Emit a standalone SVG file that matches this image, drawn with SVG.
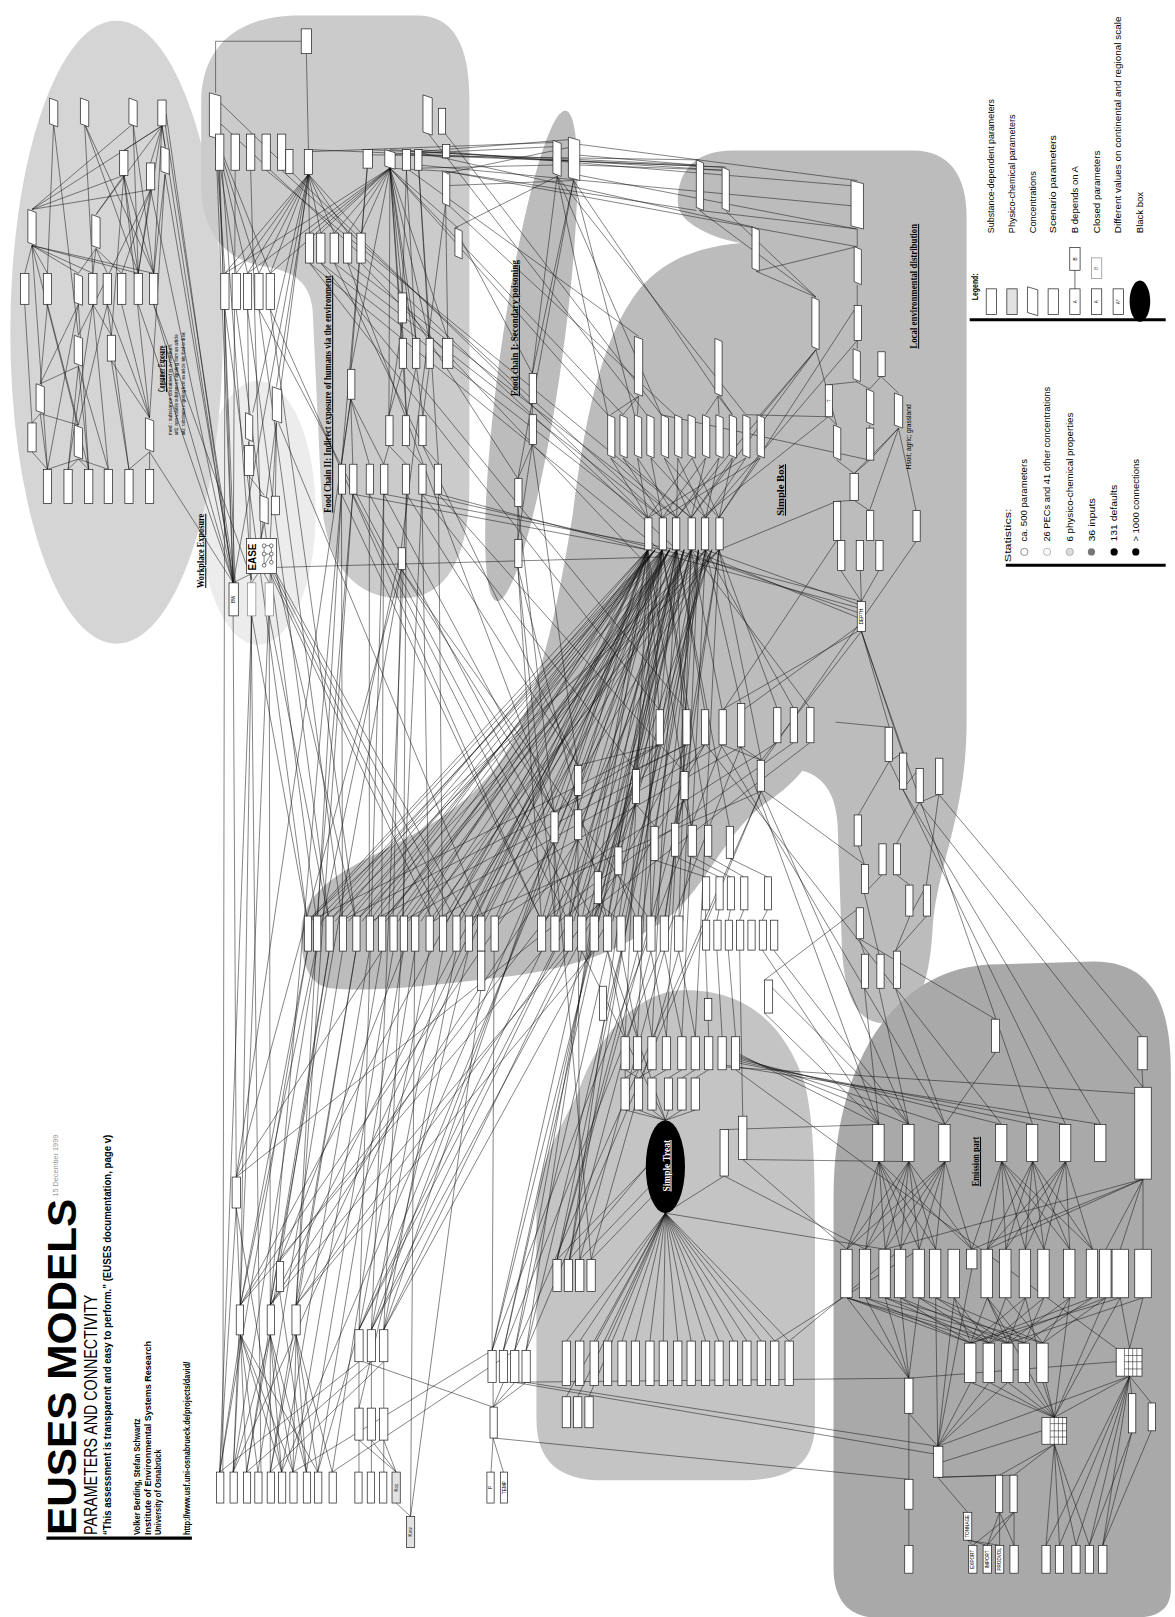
<svg xmlns="http://www.w3.org/2000/svg" width="1175" height="1617" viewBox="0 0 1175 1617">
<defs>
<style>
.b{fill:#fff;stroke:#222;stroke-width:.7}
.c{fill:#fff;stroke:#222;stroke-width:.7}
.p{fill:#e2e2e2;stroke:#222;stroke-width:.7}
.k{fill:#fff;stroke:#8a8a8a;stroke-width:.7}
.l{fill:none;stroke:#111;stroke-width:.5}
.s{font-family:"Liberation Sans",Arial,sans-serif;fill:#000}
.h{font-family:"Liberation Serif","Times New Roman",serif;font-weight:bold;text-decoration:underline;font-size:10px;fill:#000}
.nl{font-family:"Liberation Sans",Arial,sans-serif;font-size:4.5px;text-anchor:middle;fill:#000}
.lg{font-family:"Liberation Sans",Arial,sans-serif;font-size:9px;fill:#000}
</style>
</defs>
<rect width="1175" height="1617" fill="#fff"/>
<g transform="scale(1.0316)">

<!-- shaded model areas -->
<g id="areas">
<ellipse cx="250" cy="497" rx="56" ry="128" fill="#ececec"/>
<ellipse cx="113" cy="322" rx="103" ry="302" fill="#d5d5d5"/>
<path d="M195,100 C195,45 230,15 290,15 L405,15 C440,15 455,45 455,95 L455,470 C455,545 430,580 390,580 C345,580 318,550 312,490 L303,300 C300,270 280,262 255,258 C215,252 195,220 195,180 Z" fill="#cbcbcb"/>
<ellipse cx="515" cy="345" rx="30" ry="240" transform="rotate(8 515 345)" fill="#bcbcbc"/>
<path d="M292,905 C292,870 320,850 360,830 C420,800 480,770 510,690 C535,620 545,560 555,500 C565,420 580,330 620,280 C650,245 690,236 740,234 L800,234 L800,700 C790,740 770,760 740,780 C700,810 680,870 640,895 C600,920 560,940 480,948 C420,955 360,962 320,958 C300,955 292,935 292,905 Z" fill="#bcbcbc"/>
<path d="M657,195 C657,165 675,146 710,146 L885,146 C920,146 937,170 937,210 L937,700 C937,790 908,840 904,900 C901,960 885,992 858,992 C832,992 818,968 816,915 L812,800 C810,760 790,745 760,745 L760,240 C720,238 695,232 678,222 C664,214 657,206 657,195 Z" fill="#bcbcbc"/>
<path d="M560,1060 C580,1000 620,962 660,960 C720,958 760,990 780,1050 C790,1090 790,1150 790,1200 L790,1380 C790,1420 765,1435 720,1435 L585,1435 C540,1435 520,1415 520,1375 L520,1180 C520,1130 540,1100 560,1060 Z" fill="#c4c4c4"/>
<path d="M808,1160 C808,1040 860,940 960,935 L1060,932 C1115,932 1135,970 1135,1040 L1135,1540 C1135,1560 1122,1568 1100,1568 L850,1568 C822,1568 808,1550 808,1520 Z" fill="#a9a9a9"/>
</g>

<!-- dependencies between parameters -->
<g id="connectors">
<path class="l" d="M52,120 46,265M52,120 76,325M82,120 90,265M82,120 134,265M82,120 149,265M129,120 134,265M129,120 149,265M129,120 31,203M157,122 120,146M157,122 146,158M157,122 160,142M157,122 31,203M157,122 93,208M157,122 134,265M157,122 149,265M31,203 120,170M31,203 146,184M93,208 120,170M31,238 24,265M31,238 46,265M31,238 76,265M31,238 90,265M31,238 134,265M31,238 149,265M31,238 46,455M31,238 86,455M93,241 76,265M93,241 90,265M93,241 104,265M93,241 118,265M120,170 134,265M120,170 149,265M120,170 108,325M120,170 145,405M146,184 118,265M146,184 76,325M146,184 134,265M160,169 149,265M160,169 145,405M76,295 39,372M76,295 46,455M76,295 86,455M90,295 108,325M90,295 66,455M90,295 105,455M24,295 31,410M46,295 39,372M46,295 76,412M104,295 76,412M104,295 145,405M104,295 125,455M118,295 145,405M76,355 39,372M76,355 86,455M76,355 105,455M76,355 66,455M108,350 145,405M108,350 125,455M39,401 31,410M39,401 76,412M39,401 46,455M76,445 46,455M76,445 66,455M76,445 86,455M76,445 105,455M145,438 125,455M145,438 145,455M31,438 46,455"/>
<path class="l" d="M157,122 226,565M157,100 228,565M146,184 226,565M160,169 227,565M134,295 226,565M149,295 226,565M149,295 244,562M145,438 226,565M161,110 226,565"/>
<path class="l" d="M209,90 209,40 292,40M297,52 299,145M209,132 218,265M209,132 229,265M209,132 240,265M209,132 251,265M209,132 262,265M209,132 226,565M211,132 228,565M213,132 244,562M299,169 218,265M299,169 229,265M299,169 240,265M299,169 251,265M299,169 262,265M299,169 300,226M299,169 311,226M299,169 324,226M299,169 337,226M299,169 350,226M299,169 226,565M299,169 253,522M378,163 300,226M378,163 311,226M378,163 324,226M378,163 337,226M378,163 350,226M378,163 218,265M378,163 240,265M378,163 262,265M378,163 390,284M378,163 390,328M378,163 403,328M378,163 416,328M378,163 434,328M378,163 340,358M378,163 377,403M378,163 394,403M378,163 410,403M378,163 444,221M378,163 432,166M356,163 340,358M356,163 331,450M394,165 390,284M394,165 403,328M406,165 416,328M406,165 425,450M432,197 434,328M432,197 389,531M340,387 331,450M340,387 342,450M340,387 358,450M340,387 372,450M390,313 377,403M390,313 394,403M390,357 377,403M403,357 394,403M416,357 410,403M377,432 372,450M377,432 394,450M394,432 409,450M410,432 425,450"/>
<path class="l" d="M331,479 332,893M358,479 358,893M394,479 391,893M409,479 416,893M425,479 429,893M389,552 381,893M342,479 307,893M372,479 370,893M300,255 640,533M311,255 628,502M324,255 642,502M337,255 656,502M350,255 620,540M378,163 589,402M378,163 604,402M394,163 619,326M356,145 675,160M378,145 700,165M394,145 730,220M406,145 825,180M432,166 675,204M432,166 830,239M300,145 700,162M425,479 628,533M409,479 642,533M372,479 656,533M342,479 628,533M441,221 540,171M432,180 556,175M406,163 536,160M214,100 628,502M214,120 656,533M273,165 642,502M258,165 670,502M213,165 226,565M228,165 226,565M243,165 253,522M218,300 298,893M229,300 307,893M240,300 319,893M251,300 332,893M262,300 345,893M218,300 216,1427M240,300 253,1427"/>
<path class="l" d="M300,255 639,688M311,255 665,688M324,255 560,742M337,255 537,787M331,479 525,893M342,479 551,893M358,479 576,893M372,479 537,787M394,479 560,742M409,479 616,746M425,479 663,748M244,597 298,893M261,597 319,893M268,556 345,893M262,300 525,893M251,300 564,893M389,552 631,893M389,552 537,787M432,130 641,402M414,128 627,402M436,200 654,402M516,431 560,742M502,491 537,787M502,550 589,893M233,1265 389,531M262,1265 331,479M287,1265 342,479M348,1289 372,479M360,1289 394,479M372,1289 409,479M213,1427 244,597M226,1427 262,556M229,1141 340,387"/>
<path class="l" d="M253,522 256,508M262,522 268,410M241,461 256,480M268,410 267,481M241,428 241,432M244,556 226,565M250,556 244,565M256,556 261,565M262,556 420,893M264,556 429,893M266,556 442,893M268,556 454,893M268,550 640,540M268,375 300,169M245,400 299,169M270,410 470,893M226,597 229,1141M244,597 233,1265M261,597 262,1265M389,552 262,1265M331,479 287,1265M229,1141 389,552"/>
<path class="l" d="M540,171 516,362M556,175 516,362M556,175 502,464M516,391 516,402M516,431 502,464M516,431 502,523M502,491 502,523M540,138 300,147M540,142 378,150M556,135 406,147M556,142 432,168M556,150 675,160M562,160 700,165M562,170 830,222M540,171 589,402M556,175 615,402M540,171 641,402M516,362 441,221M502,464 386,284M502,550 525,893M502,550 538,893"/>
<path class="l" d="M831,222 831,239M831,276 831,296M831,330 831,338M830,370 843,377M854,365 843,377M854,365 871,381M831,370 803,373M843,412 843,415M871,415 843,446M871,415 828,459M871,415 888,495M871,415 843,495M811,446 828,459M828,485 811,486M828,485 843,495M843,446 828,459M791,339 811,412M803,404 811,412M815,553 835,583M834,553 835,583M852,553 835,583M816,524 811,524M678,204 791,288M704,205 791,288M733,263 791,288M733,263 831,239M678,204 831,222M831,175 562,140M831,200 406,160M704,162 394,150M678,155 356,150M791,339 656,502M791,339 670,502M831,330 684,502M831,296 697,502M811,486 697,533M811,524 700,690M803,404 680,502M843,446 641,402M888,525 741,737M642,533 835,583M628,533 835,590M656,533 835,595M670,533 835,600M684,533 835,587M718,690 835,605M700,688 835,610M738,737 835,612M835,612 862,705M835,612 875,730M862,738 875,730M875,765 891,745M891,778 910,770M862,705 810,700M832,820 838,838M855,848 838,866M869,848 882,858M882,888 898,858M833,910 838,925M838,866 852,925M882,888 868,922M898,888 868,922M838,958 852,1090M852,958 881,1090M868,958 916,1090M833,880 741,950M838,838 741,767M832,790 862,738M910,770 898,858M891,778 869,818"/>
<path class="l" d="M619,384 592,402M619,384 604,402M619,384 618,402M696,384 684,402M696,384 697,402M696,384 710,402M592,444 628,502M604,444 642,502M618,444 628,502M618,444 656,502M631,444 642,502M644,444 670,502M657,444 656,502M657,444 684,502M671,444 697,502M684,444 670,502M697,444 684,502M710,444 697,502M723,444 628,502M737,444 642,502M592,444 656,502M604,444 670,502M631,444 684,502M644,444 697,502M671,444 628,502M684,444 642,502M697,444 656,502M710,444 670,502M723,444 684,502M737,444 697,502M710,402 556,175M723,402 540,171M737,402 791,339M723,402 803,404"/>
<path class="l" d="M628,533 298,893M642,533 307,893M628,533 319,893M656,533 332,893M642,533 345,893M628,533 358,893M670,533 370,893M642,533 381,893M656,533 391,893M628,533 402,893M684,533 416,893M642,533 429,893M656,533 442,893M628,533 454,893M670,533 466,893M642,533 479,893M697,533 298,893M684,533 319,893M697,533 345,893M684,533 370,893M697,533 402,893M670,533 442,893M628,533 525,893M642,533 538,893M656,533 551,893M628,533 564,893M670,533 576,893M642,533 589,893M684,533 602,893M656,533 618,893M628,533 631,893M697,533 644,893M670,533 658,893M642,533 551,893M656,533 589,893M628,533 639,688M642,533 665,688M656,533 683,688M670,533 700,688M684,533 718,682M697,533 738,737M628,533 560,742M642,533 616,746M656,533 663,748M628,533 537,787M642,533 560,785M656,533 599,821M670,533 580,845M684,533 635,801M697,533 654,798M628,533 670,800M642,533 686,800M656,533 707,801M697,533 753,686M684,533 769,686M670,533 785,686M628,533 606,1005M642,533 618,1005M656,533 632,1005M670,533 646,1005M684,533 661,1005M697,533 674,1005M628,533 233,1265M642,533 262,1265M628,533 287,1265M656,533 348,1289M642,533 360,1289M628,533 372,1289M670,533 477,1309M656,533 488,1309M642,533 499,1309M628,533 510,1309M684,533 540,1221M670,533 552,1221"/>
<path class="l" d="M635,533 300,893M635,533 312,893M635,533 325,893M635,533 338,893M635,533 351,893M635,533 363,893M635,533 374,893M635,533 386,893M649,533 396,893M649,533 408,893M649,533 420,893M649,533 433,893M649,533 446,893M649,533 458,893M649,533 470,893M649,533 482,893M663,533 529,893M663,533 542,893M663,533 556,893M663,533 568,893M663,533 580,893M663,533 594,893M677,533 606,893M677,533 622,893M677,533 635,893M677,533 648,893M677,533 662,893M690,533 540,790M690,533 560,800M690,533 600,830M690,533 580,860M639,722 300,893M665,722 330,893M683,722 360,893M700,722 390,893M718,724 420,893M738,767 450,893M753,720 480,893M769,720 525,893M785,720 560,893"/>
<path class="l" d="M639,722 560,742M665,722 616,746M683,722 663,748M700,722 738,737M718,724 738,737M639,722 537,787M560,771 560,785M616,779 599,821M663,775 654,798M663,775 670,800M616,779 635,801M560,814 580,845M635,834 684,850M654,830 697,850M670,830 708,850M686,830 721,850M707,832 744,850M684,882 684,892M697,882 695,892M708,882 706,892M721,882 717,892M744,882 739,892M580,876 589,893M580,876 602,893M537,817 538,893M560,814 551,893M599,848 618,893M635,834 631,893M654,830 644,893M670,830 658,893M537,817 233,1265M560,814 262,1265M580,876 287,1265M599,848 229,1141M616,779 271,1223M639,722 348,1289M665,722 360,1289M683,722 372,1289M700,722 477,1309M718,724 488,1309M738,767 499,1309M738,767 510,1309M663,775 540,1221M616,779 552,1221M560,771 562,1221M537,817 573,1221"/>
<path class="l" d="M298,922 213,1427M307,922 226,1427M319,922 239,1427M332,922 250,1427M345,922 262,1427M358,922 273,1427M370,922 284,1427M381,922 297,1427M391,922 308,1427M402,922 322,1427M416,922 348,1289M429,922 360,1289M442,922 372,1289M454,922 348,1365M466,960 398,1470M479,922 477,1309M298,922 233,1265M319,922 262,1265M345,922 287,1265M370,922 229,1141M391,922 271,1223M525,922 348,1289M538,922 360,1289M551,922 372,1289M564,922 477,1309M576,922 488,1309M589,922 499,1309M602,922 510,1309M618,922 540,1221M631,922 552,1221M644,922 562,1221M658,922 573,1221M525,922 233,1265M551,922 262,1265M576,922 287,1265M589,922 606,1005M602,922 618,1005M618,922 632,1005M631,922 646,1005M644,922 661,1005M658,922 674,1005M684,921 687,1005M695,921 700,1005M706,921 713,1005M717,921 720,1082M739,921 852,1090M750,921 881,1090"/>
<path class="l" d="M229,1171 233,1265M229,1171 213,1427M229,1171 273,1427M271,1252 262,1265M271,1252 297,1427M233,1294 213,1427M233,1294 226,1427M233,1294 239,1427M233,1294 250,1427M233,1294 273,1427M233,1294 284,1427M233,1294 308,1427M262,1294 239,1427M262,1294 262,1427M262,1294 273,1427M262,1294 284,1427M262,1294 297,1427M262,1294 226,1427M287,1294 284,1427M287,1294 297,1427M287,1294 308,1427M287,1294 322,1427M287,1294 262,1427M348,1320 348,1365M360,1320 360,1365M372,1320 372,1365M348,1396 348,1427M348,1396 384,1427M360,1396 360,1427M360,1396 384,1427M372,1396 372,1427M372,1396 384,1427M384,1457 398,1470M398,1470 402,922M478,1340 478,1364M488,1340 478,1364M499,1340 478,1364M510,1340 478,1364M478,1394 476,1427M478,1394 488,1427M479,1394 881,1434M352,1320 478,1364M213,1427 348,1320M239,1427 360,1320M262,1427 372,1320M284,1427 477,1309M308,1427 348,1289M322,1427 499,1309M226,1427 628,533M273,1427 656,533"/>
<path class="l" d="M645,1086 606,1076M645,1086 619,1076M645,1086 632,1076M645,1086 648,1076M645,1086 661,1076M645,1086 674,1076M606,1045 618,1037M619,1045 632,1037M632,1045 646,1037M648,1045 661,1037M661,1045 674,1037M674,1045 687,1037M606,1045 606,1037M619,1045 606,1037M645,1086 589,922M645,1086 564,922M627,1131 540,1221M627,1131 552,1221M630,1150 562,1221M632,1160 573,1221M645,1176 549,1300M645,1176 562,1300M645,1176 576,1300M645,1176 589,1300M645,1176 603,1300M645,1176 616,1300M645,1176 630,1300M645,1176 643,1300M645,1176 657,1300M645,1176 670,1300M645,1176 684,1300M645,1176 697,1300M645,1176 711,1300M645,1176 724,1300M645,1176 738,1300M645,1176 751,1300M645,1176 765,1300M645,1176 549,1354M645,1176 560,1354M645,1176 571,1354M713,1020 852,1090M713,1022 881,1090M713,1024 916,1090M713,1026 971,1090M713,1028 1001,1090M713,1030 1033,1090M700,1032 1067,1090M700,1034 1100,1060M702,1140 645,1176M720,1124 881,1126M702,1095 852,1090"/>
<path class="l" d="M852,1126 821,1211M852,1126 839,1211M852,1126 858,1211M852,1126 873,1211M852,1126 891,1211M852,1126 907,1211M852,1126 942,1211M881,1126 821,1211M881,1126 839,1211M881,1126 858,1211M881,1126 873,1211M881,1126 891,1211M881,1126 907,1211M881,1126 942,1211M916,1126 821,1211M916,1126 839,1211M916,1126 858,1211M916,1126 873,1211M916,1126 891,1211M916,1126 907,1211M916,1126 942,1211M971,1126 957,1211M971,1126 975,1211M971,1126 994,1211M971,1126 1012,1211M971,1126 1037,1211M971,1126 1059,1211M971,1126 942,1211M1001,1126 957,1211M1001,1126 975,1211M1001,1126 994,1211M1001,1126 1012,1211M1001,1126 1037,1211M1001,1126 1059,1211M1033,1126 957,1211M1033,1126 975,1211M1033,1126 994,1211M1033,1126 1012,1211M1033,1126 1037,1211M1033,1126 1059,1211M1108,1143 1086,1211M1108,1143 1108,1211M1108,1143 942,1211M1108,1143 1072,1211M1108,1143 858,1211M1108,1143 957,1211M965,1020 916,1090M1107,1037 1108,1054M852,1090 718,724M881,1090 738,767M916,1090 700,724M971,1090 683,720M1001,1090 835,612M1033,1090 862,738M1067,1090 875,765M1108,1054 891,778M1107,1005 910,770M965,988 833,910M852,1090 741,982M881,1090 741,950"/>
<path class="l" d="M821,1258 881,1336M839,1258 881,1336M858,1258 881,1336M873,1258 881,1336M891,1258 881,1336M957,1258 1022,1374M994,1258 1022,1374M1037,1258 1022,1374M1072,1258 1022,1374M1086,1258 1022,1374M907,1258 909,1402M925,1258 909,1402M942,1230 909,1402M941,1340 1022,1374M959,1340 1022,1374M977,1340 1022,1374M993,1340 1022,1374M1011,1340 1022,1374M941,1340 909,1402M959,1340 909,1402M977,1340 909,1402M1086,1258 1095,1307M1108,1258 1095,1307M1095,1334 1097,1351M1095,1334 1116,1360M1095,1334 1014,1498M1095,1334 1027,1498M1095,1334 1043,1498M1095,1334 1056,1498M1095,1334 1069,1498M1095,1334 909,1402M1095,1334 1022,1374M1082,1320 881,1336M1022,1400 1014,1498M1022,1400 1027,1498M1022,1400 1043,1498M1022,1400 1056,1498M1022,1400 969,1430M1022,1400 983,1430M1010,1387 914,1417M1097,1389 1069,1498M1097,1389 1056,1498M1116,1387 1069,1498M881,1370 881,1434M881,1370 909,1402M881,1463 881,1498M909,1432 938,1466M909,1432 969,1430M909,1432 983,1430M938,1493 943,1498M938,1493 957,1498M938,1493 969,1498M969,1466 969,1498M969,1466 983,1498M969,1466 957,1498M983,1466 983,1498M983,1466 957,1498M983,1466 943,1498M909,1402 510,1340M909,1410 499,1340M881,1336 488,1340M821,1211 720,1124M839,1211 702,1140M858,1211 645,1176M873,1211 765,1300M891,1211 751,1300M1082,1307 713,1037"/>
<path class="l" d="M821,1258 941,1302M821,1258 959,1302M821,1258 977,1302M839,1258 941,1302M839,1258 993,1302M858,1258 959,1302M858,1258 1011,1302M873,1258 941,1302M873,1258 977,1302M891,1258 959,1302M891,1258 993,1302M907,1258 977,1302M907,1258 1011,1302M925,1258 941,1302M925,1258 959,1302M957,1258 941,1302M957,1258 977,1302M957,1258 993,1302M975,1258 959,1302M975,1258 1011,1302M994,1258 941,1302M994,1258 977,1302M1012,1258 959,1302M1012,1258 993,1302M1037,1258 977,1302M1037,1258 1011,1302M1059,1258 993,1302M1059,1258 941,1302M1072,1258 1011,1302M1072,1258 959,1302M1086,1258 941,1302M1108,1258 977,1302"/>
</g>

<!-- consumer exposure parameters -->
<g id="consumer">
<g id="ce01"><path class="c" d="M48,95l8,3v25l-8,-3z"/></g>
<g id="ce02"><path class="c" d="M78,95l8,3v25l-8,-3z"/></g>
<g id="ce03"><path class="c" d="M125,95l8,3v25l-8,-3z"/></g>
<g id="ce04"><rect class="b" x="153" y="97" width="8" height="25"/></g>
<g id="ce05"><rect class="b" x="116" y="146" width="8" height="24"/></g>
<g id="ce06"><rect class="b" x="142" y="158" width="8" height="26"/></g>
<g id="ce07"><path class="c" d="M156,142l8,3v24l-8,-3z"/></g>
<g id="ce08"><path class="c" d="M27,203l8,3v32l-8,-3z"/></g>
<g id="ce09"><path class="c" d="M89,208l8,3v30l-8,-3z"/></g>
<g id="ce10"><rect class="b" x="20" y="265" width="8" height="30"/></g>
<g id="ce11"><rect class="b" x="42" y="265" width="8" height="30"/></g>
<g id="ce12"><path class="c" d="M72,265l8,3v28l-8,-3z"/></g>
<g id="ce13"><rect class="b" x="86" y="265" width="8" height="30"/></g>
<g id="ce14"><rect class="b" x="100" y="265" width="8" height="30"/></g>
<g id="ce15"><rect class="b" x="114" y="265" width="8" height="30"/></g>
<g id="ce16"><rect class="b" x="130" y="265" width="8" height="30"/></g>
<g id="ce17"><rect class="b" x="145" y="265" width="8" height="30"/></g>
<g id="ce18"><path class="c" d="M72,325l8,3v27l-8,-3z"/></g>
<g id="ce19"><rect class="b" x="104" y="325" width="8" height="25"/></g>
<g id="ce20"><path class="c" d="M35,372l8,3v26l-8,-3z"/></g>
<g id="ce21"><rect class="b" x="27" y="410" width="8" height="28"/></g>
<g id="ce22"><path class="c" d="M72,412l8,3v30l-8,-3z"/></g>
<g id="ce23"><path class="c" d="M141,405l8,3v30l-8,-3z"/></g>
<g id="ce24"><rect class="b" x="42" y="455" width="8" height="33"/></g>
<g id="ce25"><rect class="b" x="62" y="455" width="8" height="33"/></g>
<g id="ce26"><rect class="b" x="82" y="455" width="8" height="33"/></g>
<g id="ce27"><rect class="b" x="101" y="455" width="8" height="33"/></g>
<g id="ce28"><rect class="b" x="121" y="455" width="8" height="33"/></g>
<g id="ce29"><rect class="b" x="141" y="455" width="8" height="33"/></g>
</g>

<!-- food chain II -->
<g id="foodchain2">
<g id="f2-01"><path class="c" d="M203,90l11,3v42l-11,-3z"/></g>
<g id="f2-02"><rect class="b" x="292" y="28" width="10" height="24"/></g>
<g id="f2-03"><rect class="b" x="209" y="130" width="8" height="35"/></g>
<g id="f2-04"><rect class="b" x="224" y="130" width="8" height="35"/></g>
<g id="f2-05"><rect class="b" x="239" y="130" width="8" height="35"/></g>
<g id="f2-06"><rect class="b" x="254" y="130" width="8" height="35"/></g>
<g id="f2-07"><rect class="b" x="269" y="130" width="8" height="35"/></g>
<g id="f2-08"><rect class="b" x="295" y="145" width="8" height="24"/></g>
<g id="f2-09"><rect class="b" x="214" y="265" width="8" height="35"/></g>
<g id="f2-10"><rect class="b" x="225" y="265" width="8" height="35"/></g>
<g id="f2-11"><rect class="b" x="236" y="265" width="8" height="35"/></g>
<g id="f2-12"><rect class="b" x="247" y="265" width="8" height="35"/></g>
<g id="f2-13"><rect class="b" x="258" y="265" width="8" height="35"/></g>
<g id="f2-14"><rect class="b" x="296" y="226" width="8" height="29"/></g>
<g id="f2-15"><rect class="b" x="307" y="226" width="8" height="29"/></g>
<g id="f2-16"><rect class="b" x="320" y="226" width="8" height="29"/></g>
<g id="f2-17"><rect class="b" x="333" y="226" width="8" height="29"/></g>
<g id="f2-18"><rect class="b" x="346" y="226" width="8" height="29"/></g>
<g id="f2-19"><rect class="b" x="277" y="145" width="7" height="23"/></g>
<g id="f2-20"><rect class="b" x="352" y="145" width="9" height="18"/></g>
<g id="f2-21"><path class="c" d="M373,145l10,3v16l-10,-3z"/></g>
<g id="f2-22"><rect class="b" x="390" y="145" width="8" height="20"/></g>
<g id="f2-23"><rect class="b" x="402" y="145" width="7" height="20"/></g>
<g id="f2-24"><rect class="b" x="429" y="140" width="7" height="13"/></g>
<g id="f2-25"><path class="c" d="M429,166l7,3v31l-7,-3z"/></g>
<g id="f2-26"><path class="c" d="M441,221l7,3v27l-7,-3z"/></g>
<g id="f2-27"><path class="c" d="M410,92l9,3v36l-9,-3z"/></g>
<g id="f2-28"><rect class="b" x="425" y="105" width="7" height="25"/></g>
<g id="f2-29"><rect class="b" x="386" y="284" width="8" height="29"/></g>
<g id="f2-30"><rect class="b" x="387" y="328" width="7" height="29"/></g>
<g id="f2-31"><rect class="b" x="400" y="328" width="7" height="29"/></g>
<g id="f2-32"><rect class="b" x="413" y="328" width="7" height="29"/></g>
<g id="f2-33"><rect class="b" x="429" y="328" width="10" height="29"/></g>
<g id="f2-34"><rect class="b" x="337" y="358" width="7" height="29"/></g>
<g id="f2-35"><rect class="b" x="374" y="403" width="7" height="29"/></g>
<g id="f2-36"><rect class="b" x="390" y="403" width="7" height="29"/></g>
<g id="f2-37"><rect class="b" x="406" y="403" width="7" height="29"/></g>
<g id="f2-38"><rect class="b" x="328" y="450" width="7" height="29"/></g>
<g id="f2-39"><rect class="b" x="339" y="450" width="7" height="29"/></g>
<g id="f2-40"><rect class="b" x="355" y="450" width="7" height="29"/></g>
<g id="f2-41"><rect class="b" x="369" y="450" width="7" height="29"/></g>
<g id="f2-42"><rect class="b" x="390" y="450" width="7" height="29"/></g>
<g id="f2-43"><rect class="b" x="406" y="450" width="7" height="29"/></g>
<g id="f2-44"><rect class="b" x="421" y="450" width="7" height="29"/></g>
<g id="f2-45"><rect class="b" x="386" y="531" width="7" height="21"/></g>
</g>

<!-- workplace exposure -->
<g id="workplace">
<g id="ease">
<rect class="b" x="239" y="522" width="29" height="34"/>
<text class="s" transform="translate(248,553) rotate(-90)" font-size="10" font-weight="bold" textLength="26" lengthAdjust="spacingAndGlyphs">EASE</text>
<path class="l" d="M256,529 263,529M256,537 263,537M256,529 256,548M263,529 263,545M263,537 256,548"/>
<circle cx="256" cy="529" r="1.8" fill="#fff" stroke="#222" stroke-width=".6"/>
<circle cx="263" cy="529" r="1.8" fill="#fff" stroke="#222" stroke-width=".6"/>
<circle cx="256" cy="537" r="1.8" fill="#fff" stroke="#222" stroke-width=".6"/>
<circle cx="263" cy="537" r="1.8" fill="#fff" stroke="#222" stroke-width=".6"/>
<circle cx="263" cy="545" r="1.8" fill="#fff" stroke="#222" stroke-width=".6"/>
<circle cx="256" cy="548" r="1.8" fill="#fff" stroke="#222" stroke-width=".6"/>
</g>
<g id="wp-bw"><rect class="b" x="222" y="565" width="9" height="32"/><text class="nl" transform="translate(228.1,581) rotate(-90)">BW</text></g>
<g id="wp-02"><rect class="k" x="240" y="565" width="8" height="32"/></g>
<g id="wp-03"><rect class="k" x="257" y="565" width="8" height="32"/></g>
<g id="wp-04"><rect class="b" x="237" y="432" width="9" height="29"/></g>
<g id="wp-05"><path class="c" d="M238,400l7,3v25l-7,-3z"/></g>
<g id="wp-06"><path class="c" d="M252,480l8,3v25l-8,-3z"/></g>
<g id="wp-07"><rect class="b" x="263" y="481" width="8" height="18"/></g>
<g id="wp-08"><path class="c" d="M264,375l9,3v32l-9,-3z"/></g>
</g>

<!-- food chain I -->
<g id="foodchain1">
<g id="f1-01"><path class="c" d="M536,136l8,3v32l-8,-3z"/></g>
<g id="f1-02"><path class="c" d="M551,133l11,3v39l-11,-3z"/></g>
<g id="f1-03"><rect class="b" x="513" y="362" width="7" height="29"/></g>
<g id="f1-04"><rect class="b" x="513" y="402" width="7" height="29"/></g>
<g id="f1-05"><rect class="b" x="499" y="464" width="7" height="27"/></g>
<g id="f1-06"><rect class="b" x="499" y="523" width="7" height="27"/></g>
</g>

<!-- local environmental distribution -->
<g id="localdist">
<g id="le-01"><path class="c" d="M675,155l7,3v46l-7,-3z"/></g>
<g id="le-02"><path class="c" d="M700,162l7,3v40l-7,-3z"/></g>
<g id="le-03"><path class="c" d="M729,220l7,3v40l-7,-3z"/></g>
<g id="le-04"><path class="c" d="M825,175l12,3v44l-12,-3z"/></g>
<g id="le-05"><path class="c" d="M828,239l7,3v34l-7,-3z"/></g>
<g id="le-06"><rect class="b" x="828" y="296" width="7" height="34"/></g>
<g id="le-07"><path class="c" d="M827,338l7,3v29l-7,-3z"/></g>
<g id="le-08"><path class="c" d="M787,288l7,3v48l-7,-3z"/></g>
<g id="le-09"><rect class="b" x="800" y="373" width="7" height="31"/><text class="nl" transform="translate(805.1,388.5) rotate(-90)">T</text></g>
<g id="le-10"><rect class="b" x="851" y="341" width="7" height="24"/></g>
<g id="le-11"><path class="c" d="M840,377l7,3v32l-7,-3z"/></g>
<g id="le-12"><path class="c" d="M867,381l8,3v31l-8,-3z"/></g>
<g id="le-13"><path class="c" d="M808,412l7,3v31l-7,-3z"/></g>
<g id="le-14"><rect class="b" x="840" y="415" width="7" height="31"/></g>
<g id="le-15"><rect class="b" x="824" y="459" width="8" height="26"/></g>
<g id="le-16"><rect class="b" x="808" y="486" width="7" height="38"/></g>
<g id="le-17"><rect class="b" x="840" y="495" width="7" height="29"/></g>
<g id="le-18"><rect class="b" x="885" y="495" width="7" height="30"/></g>
<g id="le-19"><rect class="b" x="812" y="524" width="7" height="29"/></g>
<g id="le-20"><rect class="b" x="830" y="524" width="7" height="29"/></g>
<g id="le-21"><rect class="b" x="849" y="524" width="7" height="29"/></g>
<g id="le-22"><rect class="b" x="831" y="583" width="8" height="29"/><text class="nl" transform="translate(836.6,597.5) rotate(-90)">DEPTH</text></g>
<g id="le-23"><rect class="b" x="858" y="705" width="7" height="33"/></g>
<g id="le-24"><rect class="b" x="872" y="730" width="7" height="35"/></g>
<g id="le-25"><rect class="b" x="888" y="745" width="7" height="33"/></g>
<g id="le-26"><rect class="b" x="907" y="735" width="7" height="35"/></g>
<g id="le-27"><rect class="b" x="828" y="790" width="7" height="30"/></g>
<g id="le-28"><rect class="b" x="835" y="838" width="7" height="28"/></g>
<g id="le-29"><rect class="b" x="852" y="818" width="7" height="30"/></g>
<g id="le-30"><rect class="b" x="866" y="818" width="7" height="30"/></g>
<g id="le-31"><rect class="b" x="878" y="858" width="7" height="30"/></g>
<g id="le-32"><rect class="b" x="895" y="858" width="7" height="30"/></g>
<g id="le-33"><rect class="b" x="830" y="880" width="7" height="30"/></g>
<g id="le-34"><rect class="b" x="835" y="925" width="7" height="33"/></g>
<g id="le-35"><rect class="b" x="850" y="925" width="7" height="33"/></g>
<g id="le-36"><rect class="b" x="866" y="922" width="7" height="36"/></g>
</g>

<!-- simple box -->
<g id="simplebox">
<g id="sb-01"><path class="c" d="M615,326l8,3v55l-8,-3z"/></g>
<g id="sb-02"><path class="c" d="M693,328l7,3v53l-7,-3z"/></g>
<g id="sb-03"><path class="c" d="M589,402l7,3v39l-7,-3z"/></g>
<g id="sb-04"><path class="c" d="M601,402l7,3v39l-7,-3z"/></g>
<g id="sb-05"><path class="c" d="M615,402l7,3v39l-7,-3z"/></g>
<g id="sb-06"><path class="c" d="M627,402l7,3v39l-7,-3z"/></g>
<g id="sb-07"><path class="c" d="M641,402l7,3v39l-7,-3z"/></g>
<g id="sb-08"><path class="c" d="M654,402l7,3v39l-7,-3z"/></g>
<g id="sb-09"><path class="c" d="M667,402l7,3v39l-7,-3z"/></g>
<g id="sb-10"><path class="c" d="M681,402l7,3v39l-7,-3z"/></g>
<g id="sb-11"><path class="c" d="M694,402l7,3v39l-7,-3z"/></g>
<g id="sb-12"><path class="c" d="M707,402l7,3v39l-7,-3z"/></g>
<g id="sb-13"><path class="c" d="M720,402l7,3v39l-7,-3z"/></g>
<g id="sb-14"><path class="c" d="M734,402l7,3v39l-7,-3z"/></g>
<g id="sb-15"><rect class="b" x="625" y="502" width="7" height="31"/></g>
<g id="sb-16"><rect class="b" x="639" y="502" width="7" height="31"/></g>
<g id="sb-17"><rect class="b" x="652" y="502" width="7" height="31"/></g>
<g id="sb-18"><rect class="b" x="667" y="502" width="7" height="31"/></g>
<g id="sb-19"><rect class="b" x="680" y="502" width="7" height="31"/></g>
<g id="sb-20"><rect class="b" x="694" y="502" width="7" height="31"/></g>
<g id="sb-21"><rect class="b" x="636" y="688" width="7" height="34"/></g>
<g id="sb-22"><rect class="b" x="662" y="688" width="7" height="34"/></g>
<g id="sb-23"><rect class="b" x="680" y="688" width="7" height="34"/></g>
<g id="sb-24"><rect class="b" x="697" y="688" width="7" height="34"/></g>
<g id="sb-25"><rect class="b" x="715" y="682" width="7" height="42"/></g>
<g id="sb-26"><rect class="b" x="750" y="686" width="7" height="34"/></g>
<g id="sb-27"><rect class="b" x="766" y="686" width="7" height="34"/></g>
<g id="sb-28"><rect class="b" x="782" y="686" width="7" height="34"/></g>
<g id="sb-29"><rect class="b" x="734" y="737" width="7" height="30"/></g>
<g id="sb-30"><rect class="b" x="557" y="742" width="7" height="29"/></g>
<g id="sb-31"><rect class="b" x="613" y="746" width="7" height="33"/></g>
<g id="sb-32"><rect class="b" x="660" y="748" width="7" height="27"/></g>
<g id="sb-33"><rect class="b" x="534" y="787" width="7" height="30"/></g>
<g id="sb-34"><rect class="b" x="557" y="785" width="7" height="29"/></g>
<g id="sb-35"><rect class="b" x="631" y="801" width="7" height="33"/></g>
<g id="sb-36"><rect class="b" x="651" y="798" width="7" height="32"/></g>
<g id="sb-37"><rect class="b" x="667" y="800" width="8" height="30"/></g>
<g id="sb-38"><rect class="b" x="683" y="800" width="7" height="30"/></g>
<g id="sb-39"><rect class="b" x="704" y="801" width="7" height="31"/></g>
<g id="sb-40"><rect class="b" x="596" y="821" width="7" height="27"/></g>
<g id="sb-41"><rect class="b" x="576" y="845" width="7" height="31"/></g>
<g id="sb-42"><rect class="b" x="681" y="850" width="7" height="32"/></g>
<g id="sb-43"><rect class="b" x="694" y="850" width="7" height="32"/></g>
<g id="sb-44"><rect class="b" x="705" y="850" width="7" height="32"/></g>
<g id="sb-45"><rect class="b" x="718" y="850" width="7" height="32"/></g>
<g id="sb-46"><rect class="b" x="741" y="850" width="7" height="32"/></g>
<g id="sb-47"><rect class="b" x="681" y="892" width="7" height="29"/></g>
<g id="sb-48"><rect class="b" x="692" y="892" width="7" height="29"/></g>
<g id="sb-49"><rect class="b" x="703" y="892" width="7" height="29"/></g>
<g id="sb-50"><rect class="b" x="714" y="892" width="7" height="29"/></g>
<g id="sb-51"><rect class="b" x="725" y="892" width="7" height="29"/></g>
<g id="sb-52"><rect class="b" x="736" y="892" width="7" height="29"/></g>
<g id="sb-53"><rect class="b" x="747" y="892" width="7" height="29"/></g>
<g id="sb-54"><rect class="b" x="581" y="956" width="7" height="33"/></g>
<g id="sb-55"><rect class="b" x="683" y="968" width="7" height="21"/></g>
<g id="sb-56"><rect class="b" x="741" y="950" width="8" height="32"/></g>
</g>

<!-- inputs along the simple box arm -->
<g id="armrow">
<g id="ar-01"><rect class="b" x="295" y="888" width="7" height="34"/></g>
<g id="ar-02"><rect class="b" x="304" y="888" width="7" height="34"/></g>
<g id="ar-03"><rect class="b" x="316" y="888" width="7" height="34"/></g>
<g id="ar-04"><rect class="b" x="329" y="888" width="7" height="34"/></g>
<g id="ar-05"><rect class="b" x="342" y="888" width="7" height="34"/></g>
<g id="ar-06"><rect class="b" x="355" y="888" width="7" height="34"/></g>
<g id="ar-07"><rect class="b" x="367" y="888" width="7" height="34"/></g>
<g id="ar-08"><rect class="b" x="378" y="888" width="7" height="34"/></g>
<g id="ar-09"><rect class="b" x="388" y="888" width="7" height="34"/></g>
<g id="ar-10"><rect class="b" x="399" y="888" width="7" height="34"/></g>
<g id="ar-11"><rect class="b" x="413" y="888" width="7" height="34"/></g>
<g id="ar-12"><rect class="b" x="426" y="888" width="7" height="34"/></g>
<g id="ar-13"><rect class="b" x="439" y="888" width="7" height="34"/></g>
<g id="ar-14"><rect class="b" x="451" y="888" width="7" height="34"/></g>
<g id="ar-15"><rect class="b" x="463" y="888" width="7" height="34"/></g>
<g id="ar-16"><rect class="b" x="476" y="888" width="7" height="34"/></g>
<g id="ar-17"><rect class="b" x="463" y="922" width="7" height="38"/></g>
<g id="ar-18"><rect class="b" x="521" y="888" width="8" height="34"/></g>
<g id="ar-19"><rect class="b" x="534" y="888" width="8" height="34"/></g>
<g id="ar-20"><rect class="b" x="547" y="888" width="8" height="34"/></g>
<g id="ar-21"><rect class="b" x="560" y="888" width="8" height="34"/></g>
<g id="ar-22"><rect class="b" x="572" y="888" width="8" height="34"/></g>
<g id="ar-23"><rect class="b" x="585" y="888" width="8" height="34"/></g>
<g id="ar-24"><rect class="b" x="598" y="888" width="8" height="34"/></g>
<g id="ar-25"><rect class="b" x="614" y="888" width="8" height="34"/></g>
<g id="ar-26"><rect class="b" x="627" y="888" width="8" height="34"/></g>
<g id="ar-27"><rect class="b" x="640" y="888" width="8" height="34"/></g>
<g id="ar-28"><rect class="b" x="654" y="888" width="8" height="34"/></g>
</g>

<!-- partitioning inputs -->
<g id="partition">
<g id="pa-01"><rect class="b" x="225" y="1141" width="8" height="30"/></g>
<g id="pa-02"><rect class="b" x="268" y="1223" width="7" height="29"/></g>
<g id="pa-03"><rect class="b" x="229" y="1265" width="7" height="29"/></g>
<g id="pa-04"><rect class="b" x="259" y="1265" width="7" height="29"/></g>
<g id="pa-05"><rect class="b" x="283" y="1265" width="8" height="29"/></g>
<g id="pa-06"><rect class="b" x="210" y="1427" width="7" height="30"/></g>
<g id="pa-07"><rect class="b" x="223" y="1427" width="7" height="30"/></g>
<g id="pa-08"><rect class="b" x="236" y="1427" width="7" height="30"/></g>
<g id="pa-09"><rect class="b" x="247" y="1427" width="7" height="30"/></g>
<g id="pa-10"><rect class="b" x="259" y="1427" width="7" height="30"/></g>
<g id="pa-11"><rect class="b" x="270" y="1427" width="7" height="30"/></g>
<g id="pa-12"><rect class="b" x="281" y="1427" width="7" height="30"/></g>
<g id="pa-13"><rect class="b" x="294" y="1427" width="7" height="30"/></g>
<g id="pa-14"><rect class="b" x="305" y="1427" width="7" height="30"/></g>
<g id="pa-15"><rect class="b" x="319" y="1427" width="7" height="30"/></g>
<g id="pa-16"><rect class="b" x="344" y="1427" width="7" height="30"/></g>
<g id="pa-17"><rect class="b" x="356" y="1427" width="7" height="30"/></g>
<g id="pa-18"><rect class="b" x="368" y="1427" width="7" height="30"/></g>
<g id="pa-koc"><rect class="p" x="380" y="1427" width="8" height="30"/><text class="nl" transform="translate(385.6,1442) rotate(-90)">Koc</text></g>
<g id="pa-20"><rect class="b" x="344" y="1289" width="8" height="31"/></g>
<g id="pa-21"><rect class="b" x="356" y="1289" width="8" height="31"/></g>
<g id="pa-22"><rect class="b" x="368" y="1289" width="8" height="31"/></g>
<g id="pa-23"><rect class="b" x="344" y="1365" width="8" height="31"/></g>
<g id="pa-24"><rect class="b" x="356" y="1365" width="8" height="31"/></g>
<g id="pa-25"><rect class="b" x="368" y="1365" width="8" height="31"/></g>
<g id="pa-kow"><rect class="p" x="394" y="1470" width="8" height="30"/><text class="nl" transform="translate(399.6,1485) rotate(-90)">Kow</text></g>
<g id="pa-27"><rect class="b" x="475" y="1364" width="7" height="30"/></g>
<g id="pa-p"><rect class="b" x="472" y="1427" width="7" height="30"/><text class="nl" transform="translate(477.1,1442) rotate(-90)">P</text></g>
<g id="pa-temp"><rect class="b" x="485" y="1427" width="7" height="30"/><text class="nl" transform="translate(490.1,1442) rotate(-90)">TEMP</text></g>
<g id="pa-30"><rect class="b" x="473" y="1309" width="8" height="31"/></g>
<g id="pa-31"><rect class="b" x="484" y="1309" width="8" height="31"/></g>
<g id="pa-32"><rect class="b" x="495" y="1309" width="8" height="31"/></g>
<g id="pa-33"><rect class="b" x="506" y="1309" width="8" height="31"/></g>
</g>

<!-- sewage treatment -->
<g id="simpletreat">
<g id="st-box"><ellipse cx="645" cy="1131" rx="19" ry="45" fill="#000"/></g>
<g id="st-01"><rect class="b" x="536" y="1221" width="8" height="31"/></g>
<g id="st-02"><rect class="b" x="547" y="1221" width="8" height="31"/></g>
<g id="st-03"><rect class="b" x="558" y="1221" width="8" height="31"/></g>
<g id="st-04"><rect class="b" x="569" y="1221" width="8" height="31"/></g>
<g id="st-05"><rect class="b" x="602" y="1005" width="8" height="32"/></g>
<g id="st-06"><rect class="b" x="614" y="1005" width="8" height="32"/></g>
<g id="st-07"><rect class="b" x="628" y="1005" width="8" height="32"/></g>
<g id="st-08"><rect class="b" x="642" y="1005" width="8" height="32"/></g>
<g id="st-09"><rect class="b" x="657" y="1005" width="8" height="32"/></g>
<g id="st-10"><rect class="b" x="670" y="1005" width="8" height="32"/></g>
<g id="st-11"><rect class="b" x="683" y="1005" width="8" height="32"/></g>
<g id="st-12"><rect class="b" x="696" y="1005" width="8" height="32"/></g>
<g id="st-13"><rect class="b" x="709" y="1005" width="8" height="32"/></g>
<g id="st-14"><rect class="b" x="602" y="1045" width="8" height="31"/></g>
<g id="st-15"><rect class="b" x="615" y="1045" width="8" height="31"/></g>
<g id="st-16"><rect class="b" x="628" y="1045" width="8" height="31"/></g>
<g id="st-17"><rect class="b" x="644" y="1045" width="8" height="31"/></g>
<g id="st-18"><rect class="b" x="657" y="1045" width="8" height="31"/></g>
<g id="st-19"><rect class="b" x="670" y="1045" width="8" height="31"/></g>
<g id="st-20"><rect class="b" x="698" y="1095" width="8" height="45"/></g>
<g id="st-21"><rect class="b" x="716" y="1082" width="8" height="42"/></g>
<g id="st-22"><rect class="b" x="545" y="1300" width="8" height="43"/></g>
<g id="st-23"><rect class="b" x="558" y="1300" width="8" height="43"/></g>
<g id="st-24"><rect class="b" x="572" y="1300" width="8" height="43"/></g>
<g id="st-25"><rect class="b" x="585" y="1300" width="8" height="43"/></g>
<g id="st-26"><rect class="b" x="599" y="1300" width="8" height="43"/></g>
<g id="st-27"><rect class="b" x="612" y="1300" width="8" height="43"/></g>
<g id="st-28"><rect class="b" x="626" y="1300" width="8" height="43"/></g>
<g id="st-29"><rect class="b" x="639" y="1300" width="8" height="43"/></g>
<g id="st-30"><rect class="b" x="653" y="1300" width="8" height="43"/></g>
<g id="st-31"><rect class="b" x="666" y="1300" width="8" height="43"/></g>
<g id="st-32"><rect class="b" x="680" y="1300" width="8" height="43"/></g>
<g id="st-33"><rect class="b" x="693" y="1300" width="8" height="43"/></g>
<g id="st-34"><rect class="b" x="707" y="1300" width="8" height="43"/></g>
<g id="st-35"><rect class="b" x="720" y="1300" width="8" height="43"/></g>
<g id="st-36"><rect class="b" x="734" y="1300" width="8" height="43"/></g>
<g id="st-37"><rect class="b" x="747" y="1300" width="8" height="43"/></g>
<g id="st-38"><rect class="b" x="761" y="1300" width="8" height="43"/></g>
<g id="st-39"><rect class="b" x="545" y="1354" width="8" height="30"/></g>
<g id="st-40"><rect class="b" x="556" y="1354" width="8" height="30"/></g>
<g id="st-41"><rect class="b" x="567" y="1354" width="8" height="30"/></g>
</g>

<!-- emission estimation -->
<g id="emission">
<g id="em-01"><rect class="b" x="846" y="1090" width="11" height="36"/></g>
<g id="em-02"><rect class="b" x="875" y="1090" width="11" height="36"/></g>
<g id="em-03"><rect class="b" x="910" y="1090" width="11" height="36"/></g>
<g id="em-04"><rect class="b" x="965" y="1090" width="11" height="36"/></g>
<g id="em-05"><rect class="b" x="995" y="1090" width="11" height="36"/></g>
<g id="em-06"><rect class="b" x="1027" y="1090" width="11" height="36"/></g>
<g id="em-07"><rect class="b" x="1061" y="1090" width="11" height="36"/></g>
<g id="em-08"><rect class="b" x="1100" y="1054" width="16" height="89"/></g>
<g id="em-09"><rect class="b" x="961" y="988" width="8" height="32"/></g>
<g id="em-10"><rect class="b" x="1103" y="1005" width="9" height="32"/></g>
<g id="em-11"><rect class="b" x="815" y="1211" width="11" height="47"/></g>
<g id="em-12"><rect class="b" x="833" y="1211" width="11" height="47"/></g>
<g id="em-13"><rect class="b" x="852" y="1211" width="11" height="47"/></g>
<g id="em-14"><rect class="b" x="867" y="1211" width="11" height="47"/></g>
<g id="em-15"><rect class="b" x="885" y="1211" width="11" height="47"/></g>
<g id="em-16"><rect class="b" x="901" y="1211" width="11" height="47"/></g>
<g id="em-17"><rect class="b" x="919" y="1211" width="11" height="47"/></g>
<g id="em-18"><rect class="b" x="937" y="1211" width="10" height="19"/></g>
<g id="em-19"><rect class="b" x="951" y="1211" width="11" height="47"/></g>
<g id="em-20"><rect class="b" x="969" y="1211" width="11" height="47"/></g>
<g id="em-21"><rect class="b" x="988" y="1211" width="11" height="47"/></g>
<g id="em-22"><rect class="b" x="1006" y="1211" width="11" height="47"/></g>
<g id="em-23"><rect class="b" x="1031" y="1211" width="11" height="47"/></g>
<g id="em-24"><rect class="b" x="1053" y="1211" width="11" height="47"/></g>
<g id="em-25"><rect class="b" x="1066" y="1211" width="11" height="47"/></g>
<g id="em-26"><rect class="b" x="1078" y="1211" width="16" height="47"/></g>
<g id="em-27"><rect class="b" x="1100" y="1211" width="16" height="47"/></g>
<g id="em-28"><rect class="b" x="935" y="1302" width="11" height="38"/></g>
<g id="em-29"><rect class="b" x="953" y="1302" width="11" height="38"/></g>
<g id="em-30"><rect class="b" x="971" y="1302" width="11" height="38"/></g>
<g id="em-31"><rect class="b" x="987" y="1302" width="11" height="38"/></g>
<g id="em-32"><rect class="b" x="1005" y="1302" width="11" height="38"/></g>
<g id="em-etable">
<rect class="b" x="1082" y="1307" width="25" height="27"/>
<path class="l" d="M1090,1307v27M1094,1307v27M1098,1307v27M1102,1307v27M1090,1314h17M1090,1320h17M1090,1327h17"/>
</g>
<g id="em-33"><rect class="b" x="877" y="1336" width="8" height="34"/></g>
<g id="em-grid">
<rect class="b" x="1010" y="1374" width="24" height="26"/>
<path class="l" d="M1018,1374v26M1022,1374v26M1026,1374v26M1030,1374v26M1018,1380h16M1018,1387h16M1018,1393h16"/>
</g>
<g id="em-34"><rect class="b" x="1094" y="1351" width="7" height="38"/></g>
<g id="em-35"><rect class="b" x="1113" y="1360" width="7" height="27"/></g>
<g id="em-36"><rect class="b" x="905" y="1402" width="9" height="30"/></g>
<g id="em-37"><rect class="b" x="877" y="1434" width="8" height="29"/></g>
<g id="em-ton"><rect class="b" x="934" y="1466" width="8" height="27"/><text class="nl" transform="translate(939.6,1479.5) rotate(-90)">TONNAGE</text></g>
<g id="em-39"><rect class="b" x="965" y="1430" width="7" height="36"/></g>
<g id="em-40"><rect class="b" x="979" y="1430" width="7" height="36"/></g>
<g id="em-41"><rect class="b" x="877" y="1498" width="8" height="27"/></g>
<g id="em-exp"><rect class="b" x="939" y="1498" width="8" height="27"/><text class="nl" transform="translate(944.6,1511.5) rotate(-90)">EXPORT</text></g>
<g id="em-imp"><rect class="b" x="953" y="1498" width="8" height="27"/><text class="nl" transform="translate(958.6,1511.5) rotate(-90)">IMPORT</text></g>
<g id="em-prod"><rect class="b" x="965" y="1498" width="8" height="27"/><text class="nl" transform="translate(970.6,1511.5) rotate(-90)">PRODVOL</text></g>
<g id="em-45"><rect class="b" x="979" y="1498" width="8" height="27"/></g>
<g id="em-46"><rect class="b" x="1010" y="1498" width="8" height="27"/></g>
<g id="em-47"><rect class="b" x="1023" y="1498" width="8" height="27"/></g>
<g id="em-48"><rect class="b" x="1039" y="1498" width="8" height="27"/></g>
<g id="em-49"><rect class="b" x="1052" y="1498" width="8" height="27"/></g>
<g id="em-50"><rect class="b" x="1065" y="1498" width="8" height="27"/></g>
</g>

<!-- area titles -->
<g id="titles">
<text class="h" transform="translate(160,380) rotate(-90)" textLength="45" lengthAdjust="spacingAndGlyphs">Consumer Exposure</text>
<text class="s" font-size="6" transform="translate(167,422) rotate(-90)" textLength="88" lengthAdjust="spacingAndGlyphs">med : substance contained in a medium</text>
<text class="s" font-size="6" transform="translate(173,422) rotate(-90)" textLength="98" lengthAdjust="spacingAndGlyphs">art1: non-volatile substance migrating from an article</text>
<text class="s" font-size="6" transform="translate(179,422) rotate(-90)" textLength="100" lengthAdjust="spacingAndGlyphs">art2: substance migrating from an article into food or drink</text>
<text class="h" transform="translate(198,570) rotate(-90)" textLength="72" lengthAdjust="spacingAndGlyphs">Workplace Exposure</text>
<text class="h" transform="translate(321,497) rotate(-90)" textLength="230" lengthAdjust="spacingAndGlyphs">Food Chain II: Indirect exposure of humans via the environment</text>
<text class="h" transform="translate(502,384) rotate(-90)" textLength="132" lengthAdjust="spacingAndGlyphs">Food chain I: Secondary poisoning</text>
<text class="h" transform="translate(760,500) rotate(-90)" textLength="50" lengthAdjust="spacingAndGlyphs">Simple Box</text>
<text class="h" transform="translate(889,338) rotate(-90)" textLength="121" lengthAdjust="spacingAndGlyphs">Local environmental distribution</text>
<text class="s" font-size="7" transform="translate(883,455) rotate(-90)" textLength="63" lengthAdjust="spacingAndGlyphs">Hsoil; agric; grassland</text>
<text class="h" style="fill:#fff" transform="translate(649,1155) rotate(-90)" textLength="50" lengthAdjust="spacingAndGlyphs">Simple Treat</text>
<text class="h" transform="translate(949,1150) rotate(-90)" textLength="48" lengthAdjust="spacingAndGlyphs">Emission part</text>
</g>

<!-- poster heading -->
<g id="heading">
<text class="s" style="fill:#999" font-size="7" transform="translate(56,1160) rotate(-90)" textLength="60" lengthAdjust="spacingAndGlyphs">15 December 1999</text>
<text class="s" font-size="40" font-weight="bold" transform="translate(74,1488) rotate(-90)" textLength="326" lengthAdjust="spacingAndGlyphs">EUSES MODELS</text>
<text class="s" font-size="17" transform="translate(94,1488) rotate(-90)" textLength="233" lengthAdjust="spacingAndGlyphs">PARAMETERS AND CONNECTIVITY</text>
<text class="s" font-size="10" font-weight="bold" transform="translate(108,1488) rotate(-90)" textLength="388" lengthAdjust="spacingAndGlyphs">“This assessment is transparent and easy to perform.” (EUSES documentation, page v)</text>
<text class="s" font-size="9.5" font-weight="bold" transform="translate(136,1488) rotate(-90)" textLength="113" lengthAdjust="spacingAndGlyphs">Volker Berding, Stefan Schwartz</text>
<text class="s" font-size="9.5" font-weight="bold" transform="translate(146,1488) rotate(-90)" textLength="188" lengthAdjust="spacingAndGlyphs">Institute of Environmental Systems Research</text>
<text class="s" font-size="9.5" font-weight="bold" transform="translate(156,1488) rotate(-90)" textLength="83" lengthAdjust="spacingAndGlyphs">University of Osnabrück</text>
<text class="s" font-size="9.5" font-weight="bold" transform="translate(184,1488) rotate(-90)" textLength="168" lengthAdjust="spacingAndGlyphs">http://www.usf.uni-osnabrueck.de/projects/david/</text>
<line x1="45" y1="1491" x2="186" y2="1491" stroke="#000" stroke-width="3"/>
</g>

<!-- legend -->
<g id="legend">
<text class="lg" font-weight="bold" transform="translate(948,291) rotate(-90)" textLength="26" lengthAdjust="spacingAndGlyphs">Legend:</text>
<line x1="940" y1="310" x2="1130" y2="310" stroke="#000" stroke-width="3"/>
<rect class="b" x="956" y="280" width="10" height="25"/>
<rect class="p" x="976" y="280" width="10" height="25"/>
<path class="c" d="M996,278l10,3v25l-10,-3z"/>
<rect class="b" x="1016" y="280" width="10" height="25"/>
<rect class="b" x="1037" y="280" width="10" height="25"/>
<rect class="b" x="1037" y="240" width="10" height="22"/>
<line x1="1042" y1="262" x2="1042" y2="280" stroke="#111" stroke-width=".6"/>
<text class="nl" transform="translate(1043.6,292.5) rotate(-90)">A</text>
<text class="nl" transform="translate(1043.6,251) rotate(-90)">B</text>
<rect class="b" x="1058" y="280" width="10" height="25"/>
<rect class="k" x="1058" y="250" width="10" height="20"/>
<text class="nl" transform="translate(1064.6,292.5) rotate(-90)">A</text>
<text class="nl" style="fill:#777" transform="translate(1064.6,260) rotate(-90)">B</text>
<rect class="b" x="1079" y="280" width="10" height="25"/>
<text class="nl" transform="translate(1085.6,292.5) rotate(-90)">A*</text>
<ellipse cx="1105" cy="292" rx="10" ry="20" fill="#000"/>
<text class="lg" transform="translate(964,226) rotate(-90)" textLength="130" lengthAdjust="spacingAndGlyphs">Substance-dependent parameters</text>
<text class="lg" transform="translate(984,226) rotate(-90)" textLength="115" lengthAdjust="spacingAndGlyphs">Physico-chemical parameters</text>
<text class="lg" transform="translate(1004,226) rotate(-90)" textLength="60" lengthAdjust="spacingAndGlyphs">Concentrations</text>
<text class="lg" transform="translate(1024,226) rotate(-90)" textLength="95" lengthAdjust="spacingAndGlyphs">Scenario parameters</text>
<text class="lg" transform="translate(1045,226) rotate(-90)" textLength="65" lengthAdjust="spacingAndGlyphs">B depends on A</text>
<text class="lg" transform="translate(1066,226) rotate(-90)" textLength="80" lengthAdjust="spacingAndGlyphs">Closed parameters</text>
<text class="lg" transform="translate(1087,226) rotate(-90)" textLength="210" lengthAdjust="spacingAndGlyphs">Different values on continental and regional scale</text>
<text class="lg" transform="translate(1108,226) rotate(-90)" textLength="40" lengthAdjust="spacingAndGlyphs">Black box</text>
</g>

<!-- statistics -->
<g id="statistics">
<text class="lg" transform="translate(980,545) rotate(-90)" textLength="52" lengthAdjust="spacingAndGlyphs">Statistics:</text>
<line x1="975" y1="548" x2="1130" y2="548" stroke="#000" stroke-width="3"/>
<circle cx="993" cy="535" r="3.5" fill="#fff" stroke="#666" stroke-width=".7"/>
<circle cx="1015" cy="535" r="3.5" fill="#fff" stroke="#999" stroke-width=".7"/>
<circle cx="1037" cy="535" r="3.5" fill="#ddd" stroke="#999" stroke-width=".7"/>
<circle cx="1058" cy="535" r="3.5" fill="#777"/>
<circle cx="1080" cy="535" r="3.5" fill="#000"/>
<circle cx="1101" cy="535" r="3.5" fill="#000"/>
<text class="lg" transform="translate(996,525) rotate(-90)" textLength="80" lengthAdjust="spacingAndGlyphs">ca. 500 parameters</text>
<text class="lg" transform="translate(1018,525) rotate(-90)" textLength="150" lengthAdjust="spacingAndGlyphs">26 PECs and 41 other concentrations</text>
<text class="lg" transform="translate(1040,525) rotate(-90)" textLength="125" lengthAdjust="spacingAndGlyphs">6 physico-chemical properties</text>
<text class="lg" transform="translate(1061,525) rotate(-90)" textLength="42" lengthAdjust="spacingAndGlyphs">36 inputs</text>
<text class="lg" transform="translate(1083,525) rotate(-90)" textLength="55" lengthAdjust="spacingAndGlyphs">131 defaults</text>
<text class="lg" transform="translate(1104,525) rotate(-90)" textLength="80" lengthAdjust="spacingAndGlyphs">&gt; 1000 connections</text>
</g>
</g>
</svg>
